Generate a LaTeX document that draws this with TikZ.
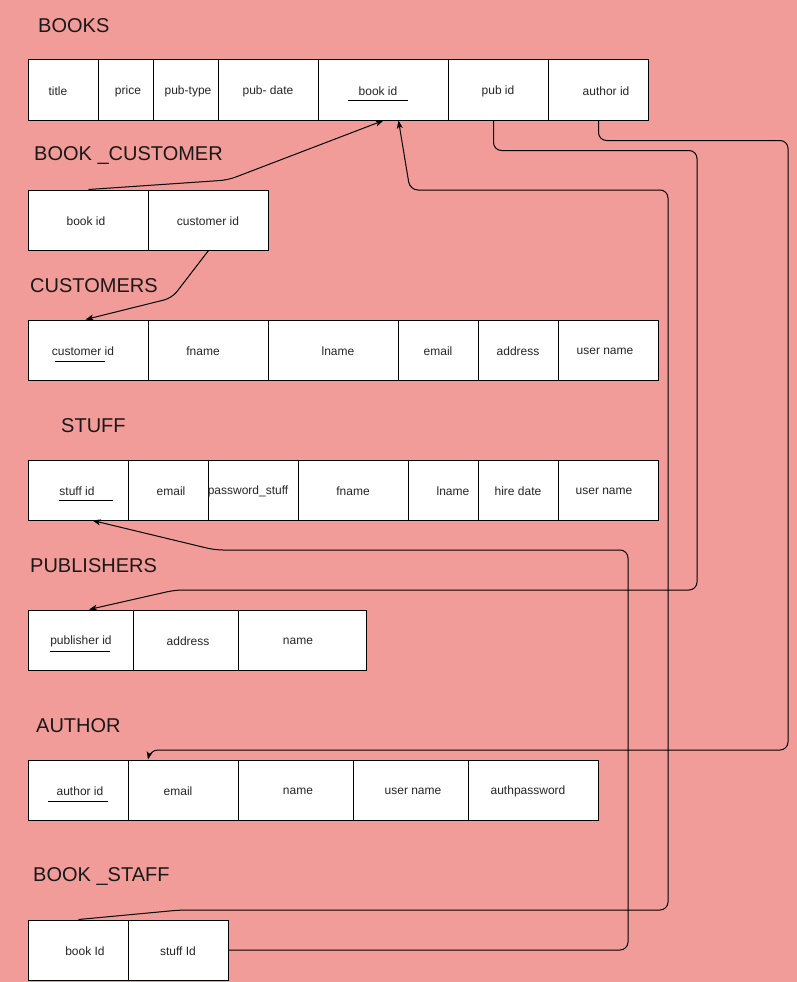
\documentclass[tikz,border=0pt]{standalone}
\usepackage{fontspec}
\setmainfont{Liberation Sans}
\usetikzlibrary{arrows.meta,positioning,calc}
\definecolor{pagebg}{HTML}{F19C99}
\tikzset{
	cell/.style={rectangle, draw, fill=white, line width=1pt, minimum height=60, inner sep=0pt, anchor=west},
	field/.style={font=\fontsize{12}{14}\selectfont, inner sep=0pt, text=black!85, yshift=-1pt},
	tname/.style={font=\fontsize{20}{24}\selectfont, inner sep=0pt, anchor=west, text=black!90},
	link/.style={line width=1pt, rounded corners=8pt},
	fk/.style={link, -{Stealth[length=8pt,width=6pt,inset=2pt]}}
}

\begin{document}
\begin{tikzpicture}[x=1pt,y=-1pt]
		\path[use as bounding box, fill=pagebg] (0,0) rectangle (797,982);
		\node at (38,26) [tname] (tbooks) {BOOKS};
		\foreach \x/\w/\tx/\txt [count=\i] in {28/70/58/title, 98/55/128/price, 153/65/188/pub-type, 218/100/268/pub- date, 318/130/378/book id, 448/100/498/pub id, 548/100/606/author id}
			{\node at (\x,90) [cell, minimum width=\w] (bk\i) {};
			\node at (\tx,90) [field] (bkt\i) {\txt};}
		\node at (34,156) [tname] (tbookcust) {BOOK \_CUSTOMER};
		\foreach \x/\w/\tx/\txt [count=\i] in {28/120/86/book id, 148/120/208/customer id}
			{\node at (\x,220) [cell, minimum width=\w] (bc\i) {};
			\node at (\tx,220) [field] (bct\i) {\txt};}
		\node at (30,286) [tname] (tcust) {CUSTOMERS};
		\foreach \x/\w/\tx/\txt [count=\i] in {28/120/83/customer id, 148/120/203/fname, 268/130/338/lname, 398/80/438/email, 478/80/518/address, 558/100/605/user name}
			{\node at (\x,350) [cell, minimum width=\w] (cu\i) {};
			\node at (\tx,350) [field] (cut\i) {\txt};}
		\node at (61,426) [tname] (tstuff) {STUFF};
		\foreach \x/\w/\tx/\txt [count=\i] in {28/100/77/stuff id, 128/80/171/email, 208/90/248/password\_stuff, 298/110/353/fname, 408/70/453/lname, 478/80/518/hire date, 558/100/604/user name}
			{\node at (\x,490) [cell, minimum width=\w] (st\i) {};
			\node at (\tx,490) [field] (stt\i) {\txt};}
		\node at (30,566) [tname] (tpub) {PUBLISHERS};
		\foreach \x/\w/\tx/\txt [count=\i] in {28/105/81/publisher id, 133/105/188/address, 238/128/298/name}
			{\node at (\x,640) [cell, minimum width=\w] (pb\i) {};
			\node at (\tx,640) [field] (pbt\i) {\txt};}
		\node at (36,726) [tname] (tauthor) {AUTHOR};
		\foreach \x/\w/\tx/\txt [count=\i] in {28/100/80/author id, 128/110/178/email, 238/115/298/name, 353/115/413/user name, 468/130/528/authpassword}
			{\node at (\x,790) [cell, minimum width=\w] (au\i) {};
			\node at (\tx,790) [field] (aut\i) {\txt};}
		\node at (33,876) [tname] (tbookstaff) {BOOK \_STAFF};
		\foreach \x/\w/\tx/\txt [count=\i] in {28/100/85/book Id, 128/100/178/stuff Id}
			{\node at (\x,950) [cell, minimum width=\w] (bs\i) {};
			\node at (\tx,950) [field] (bst\i) {\txt};}
		%keys
		\draw [line width=1pt] (348,100) -- (408,100) (55,361) -- (105,361) (59,500) -- (113,500) (50,651) -- (110,651) (48,801) -- (108,801);
		%links
		\draw [fk] (bc1.north) -- (228,180) -- (bk5.south);
		\draw [fk] (bc2.south) -- (172,298) -- ([xshift=-3]cu1.north);
		\draw [fk] ([xshift=-5]bk6.south) -- ++(0,30) -| (697,590) -- (175,590) -- ([xshift=8]pb1.north);
		\draw [fk] (bk7.south) -- ++(0,20) -| (788,750) -- (150,750) -- ([xshift=20]au2.north west);
		\draw [fk] (bs1.north) -- (180,910) -| (668,190) -- (410,190) -- ([xshift=15]bk5.south);
		\draw [fk] (bs2.east) -| (628,550) -- (215,550) -- ([xshift=14]st1.south);
\end{tikzpicture}
\end{document}
